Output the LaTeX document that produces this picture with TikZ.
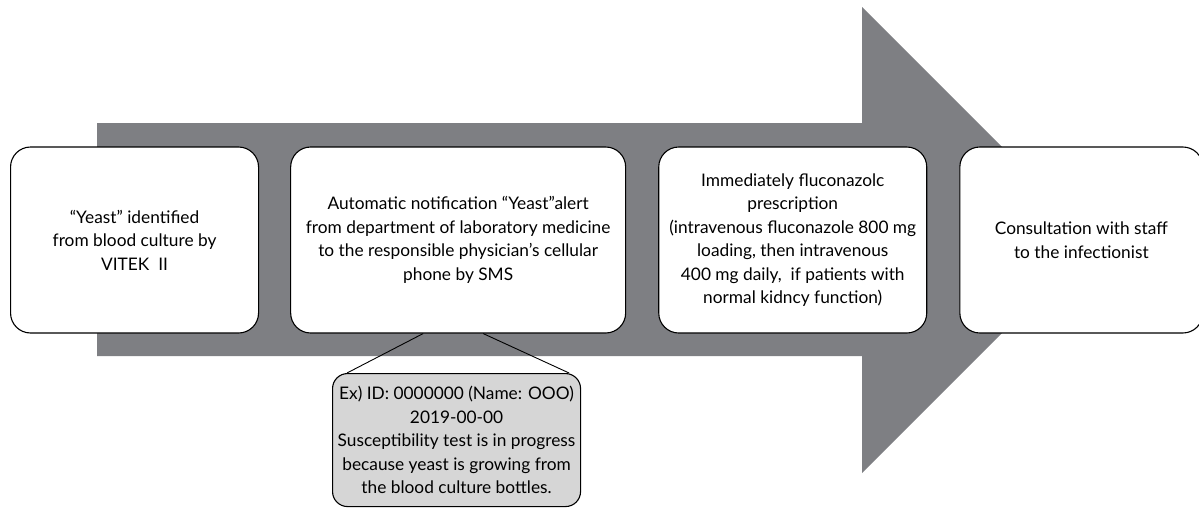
\documentclass[tikz,border=0pt]{standalone}
\usepackage{fontspec}
\setmainfont{Lato}
\usepackage{tikz}
\usetikzlibrary{positioning}
\definecolor{shaft}{HTML}{7E7F83}
\definecolor{notefill}{HTML}{D6D6D6}

\begin{document}
\begin{tikzpicture}[
    x=1pt, y=-1pt,
    node distance=31pt,
    every node/.style={font=\fontsize{17.3}{23.5}\selectfont},
    sbox/.style={draw, line width=1.1pt, rounded corners=20pt, fill=white, minimum height=186pt, align=center, inner sep=0pt},
    notebox/.style={draw, line width=1.1pt, rounded corners=15pt, fill=notefill, minimum width=248pt, minimum height=133pt, align=center, inner sep=0pt}
]
    \useasboundingbox (0,0) rectangle (1199,507);
    % Big arrow behind the steps
    \fill[shaft] (97,123) -- (862,123) -- (862,7) -- (1095,240) -- (862,473) -- (862,356) -- (97,356) -- cycle;

    % Nodes (left to right)
    \node [sbox, minimum width=248pt, anchor=west] (culture) at (10,240) {``Yeast'' identified \\ from blood culture by \\ VITEK~~II};
    \node [sbox, minimum width=335pt, right=of culture] (alert) {Automatic notification ``Yeast''alert \\ from department of laboratory medicine \\ to the responsible physician's cellular \\ phone by SMS};
    \node [sbox, minimum width=268pt, right=32pt of alert] (drug) {Immediately fluconazolc \\ prescription \\ (intravenous fluconazole 800 mg \\ loading, then intravenous \\ 400 mg daily,~ if patients with \\ normal kidncy function)};
    \node [sbox, minimum width=243pt, right=32pt of drug] (consult) {Consultation with staff \\ to the infectionist};

    % Message example
    \node [notebox, anchor=north west] (sms) at (332,373) {Ex) ID: 0000000 (Name: OOO) \\ 2019-00-00 \\ Susceptibility test is in progress \\ because yeast is growing from \\ the blood culture bottles.};

    % Callout lines
    \draw[line width=0.9pt] ([xshift=-35pt]alert.south) -- ([xshift=15pt]sms.north west);
    \draw[line width=0.9pt] ([xshift=25pt]alert.south) -- ([xshift=-12pt]sms.north east);
\end{tikzpicture}
\end{document}
